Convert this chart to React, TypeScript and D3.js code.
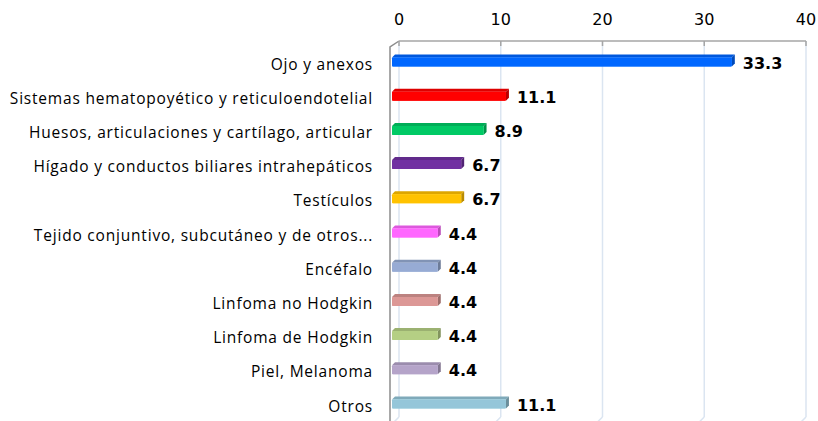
import React from "react";
import * as d3 from "d3";

const categories = [
  "Ojo y anexos",
  "Sistemas hematopoyético y reticuloendotelial",
  "Huesos, articulaciones y cartílago, articular",
  "Hígado y conductos biliares intrahepáticos",
  "Testículos",
  "Tejido conjuntivo, subcutáneo y de otros...",
  "Encéfalo",
  "Linfoma no Hodgkin",
  "Linfoma de Hodgkin",
  "Piel, Melanoma",
  "Otros",
];
const values = [33.3, 11.1, 8.9, 6.7, 6.7, 4.4, 4.4, 4.4, 4.4, 4.4, 11.1];
const colors = [
  "#0066ff",
  "#ff0000",
  "#00c864",
  "#7030a0",
  "#ffc000",
  "#ff66ff",
  "#95a9d1",
  "#d99694",
  "#b3cc82",
  "#b3a2c7",
  "#93c4d6",
];
const ticks = [0, 10, 20, 30, 40];

const W = 818;
const H = 421;
const DX = 6; // depth offset
const DY = 6;

export default function App() {
  const xBack = d3.scaleLinear().domain([0, 40]).range([399, 806]);
  const xFront = (v: number) => xBack(v) - DX;
  const y = d3.scaleBand<string>().domain(categories).range([44.9, 421.1]).paddingInner(0);

  const axisY = 41;
  const floorY = H - 4;

  return (
    <svg
      width={W}
      height={H}
      style={{ position: "absolute", left: 0, top: 0, background: "#fff" }}
      fontFamily="'Open Sans', sans-serif"
    >
      {ticks.map((t) => (
        <g key={"g" + t}>
          <line x1={xBack(t)} x2={xBack(t)} y1={axisY} y2={floorY} stroke="#dbe5f1" strokeWidth={1.5} />
          <line x1={xBack(t)} x2={xBack(t) - DX} y1={floorY} y2={floorY + DY} stroke="#dbe5f1" strokeWidth={1.5} />
        </g>
      ))}
      <path
        d={`M${xBack(0) - DX - 3},${H} L${xBack(0) - DX - 3},${axisY + DY} L${xBack(0)},${axisY}`}
        fill="none"
        stroke="#8c8c8c"
        strokeWidth={1.5}
      />
      <line x1={xBack(0)} x2={xBack(40)} y1={axisY} y2={axisY} stroke="#a6a6a6" strokeWidth={1.5} />
      {ticks.map((t) => (
        <g key={"t" + t}>
          <line x1={xBack(t)} x2={xBack(t)} y1={axisY} y2={axisY + 5} stroke="#a6a6a6" strokeWidth={1.5} />
          <text
            x={xBack(t)}
            y={25}
            textAnchor="middle"
            fontFamily="'DejaVu Sans', sans-serif"
            fontSize={16}
            fill="#000"
          >
            {t}
          </text>
        </g>
      ))}
      {categories.map((c, i) => {
        const cy = (y(c) as number) + y.bandwidth() / 2;
        const x0 = xFront(0) - 1;
        const x1 = xFront(values[i]);
        const top = cy - 4.5;
        const bot = cy + 4.5;
        const d = 3;
        const col = d3.color(colors[i])!;
        const dark = col.darker(0.9).formatHex();
        const light = col.brighter(0.2).formatHex();
        return (
          <g key={c}>
            <polygon
              points={`${x0},${top} ${x0 + d},${top - d} ${x1 + d},${top - d} ${x1},${top}`}
              fill={col.darker(0.4).formatHex()}
            />
            <polygon
              points={`${x1},${top} ${x1 + d},${top - d} ${x1 + d},${bot - d} ${x1},${bot}`}
              fill={dark}
            />
            <rect x={x0} y={top} width={x1 - x0} height={bot - top} fill={light} rx={1} />
            <rect x={x0} y={top} width={x1 - x0} height={bot - top} fill={colors[i]} opacity={0.85} rx={1} />
            <text
              x={x1 + d + 8}
              y={cy + 1}
              dominantBaseline="central"
              fontFamily="'DejaVu Sans', sans-serif"
              fontWeight="bold"
              fontSize={16}
              fill="#000"
            >
              {values[i].toFixed(1)}
            </text>
            <text
              x={373}
              y={cy + 1.5}
              textAnchor="end"
              dominantBaseline="central"
              fontSize={15.5}
              letterSpacing={0.8}
              fill="#000"
            >
              {c}
            </text>
          </g>
        );
      })}
    </svg>
  );
}
